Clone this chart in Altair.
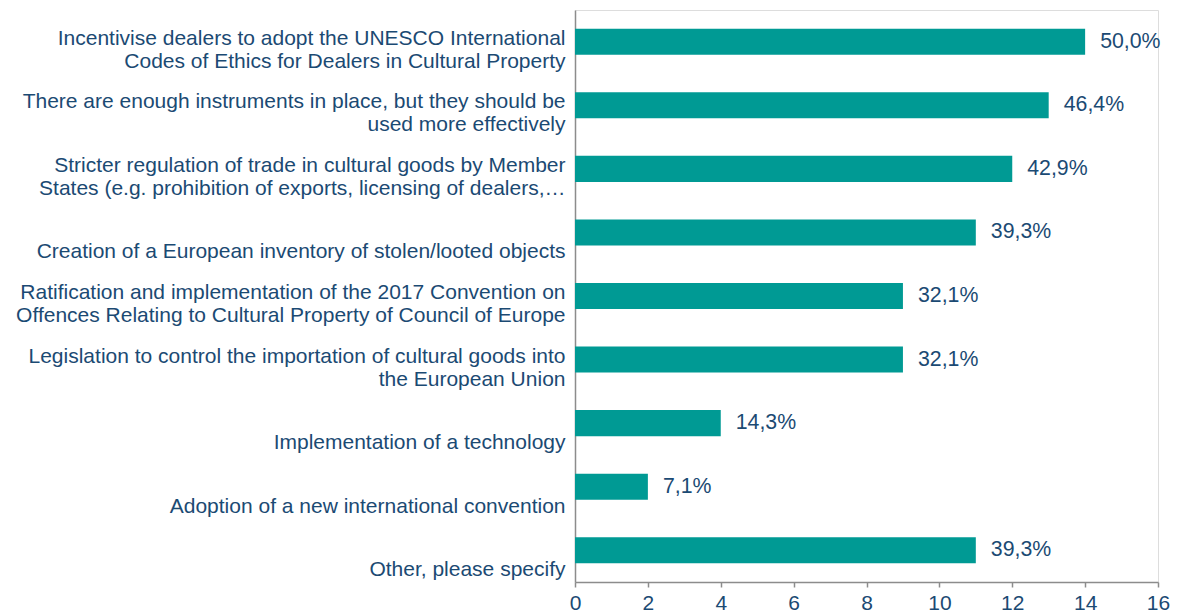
import altair as alt
import pandas as pd

categories = [
    "Incentivise dealers to adopt the UNESCO International\nCodes of Ethics for Dealers in Cultural Property",
    "There are enough instruments in place, but they should be\nused more effectively",
    "Stricter regulation of trade in cultural goods by Member\nStates (e.g. prohibition of exports, licensing of dealers,…",
    "\nCreation of a European inventory of stolen/looted objects",
    "Ratification and implementation of the 2017 Convention on\nOffences Relating to Cultural Property of Council of Europe",
    "Legislation to control the importation of cultural goods into\nthe European Union",
    "\nImplementation of a technology",
    "\nAdoption of a new international convention",
    "\nOther, please specify",
]
counts = [14, 13, 12, 11, 9, 9, 4, 2, 11]
pct_labels = ["50,0%", "46,4%", "42,9%", "39,3%", "32,1%", "32,1%", "14,3%", "7,1%", "39,3%"]

df = pd.DataFrame({"cat": categories, "count": counts, "pct": pct_labels})

FONT = "Liberation Sans"
TEXT = "#1B4A73"
BAR = "#009A94"
AXIS = "#8C8C8C"

y_enc = alt.Y(
    "cat:N",
    sort=categories,
    title=None,
    scale=alt.Scale(paddingInner=0.59, paddingOuter=0.295),
    axis=alt.Axis(
        labelExpr="split(datum.label, '\\n')",
        labelAlign="right",
        labelBaseline="bottom",
        labelOffset=7,
        labelPadding=10,
        labelLineHeight=23,
        labelFontSize=21,
        labelColor=TEXT,
        labelFont=FONT,
        labelLimit=0,
        ticks=False,
        domainColor=AXIS,
        domainWidth=1.5,
        grid=False,
    ),
)

x_enc = alt.X(
    "count:Q",
    title=None,
    scale=alt.Scale(domain=[0, 16], nice=False),
    axis=alt.Axis(
        values=[0, 2, 4, 6, 8, 10, 12, 14, 16],
        labelFontSize=21,
        labelColor=TEXT,
        labelFont=FONT,
        labelPadding=5,
        tickSize=5,
        tickColor=AXIS,
        tickWidth=1.5,
        domainColor=AXIS,
        domainWidth=1.5,
        grid=False,
        labelFlush=False,
    ),
)

bars = alt.Chart(df).mark_bar(color=BAR).encode(x=x_enc, y=y_enc)

labels = alt.Chart(df).mark_text(
    align="left", baseline="middle", dx=15, fontSize=21.3, font=FONT, color=TEXT
).encode(x="count:Q", y=alt.Y("cat:N", sort=categories), text="pct:N")

chart = (
    alt.layer(bars, labels)
    .properties(
        width=583,
        height=572,
        autosize=alt.AutoSizeParams(type="none"),
        padding={"left": 567, "top": 2, "right": 12, "bottom": 33},
    )
    .configure_view(stroke=None)
    .configure(background="white")
)

chart.save("out.html", embed_options={"renderer": "svg", "actions": False})
